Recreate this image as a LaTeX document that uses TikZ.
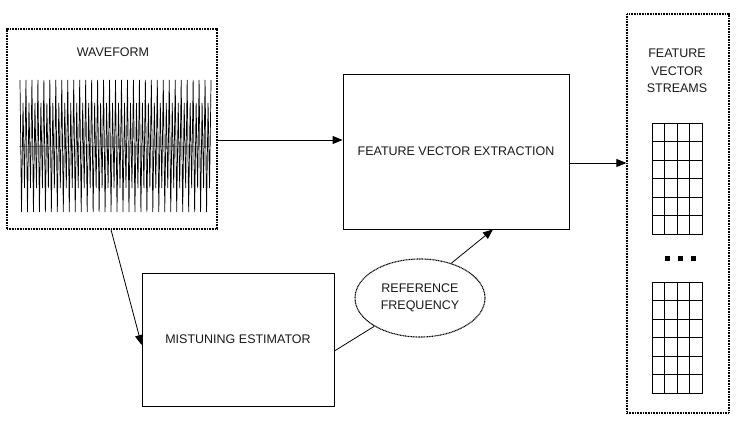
\documentclass[tikz,border=0pt]{standalone}
\usepackage{fontspec}
\setmainfont{Liberation Sans}
\usetikzlibrary{arrows.meta,shapes.geometric}
\begin{document}
\begin{tikzpicture}[x=1pt,y=-1pt,
  every node/.style={font=\fontsize{12.5}{17.5}\selectfont, text=black!90},
  dotbox/.style={draw, dash pattern=on 1pt off 0.6pt, line width=1.3pt, inner sep=0pt, rectangle},
  solidbox/.style={draw, line width=0.8pt, inner sep=0pt, rectangle, align=center},
  ellbox/.style={draw, ellipse, dash pattern=on 1pt off 0.6pt, line width=1.1pt, inner sep=0pt, align=center},
  arr/.style={line width=0.8pt, -{Triangle[length=10pt,width=8pt]}},
  conn/.style={line width=0.8pt},
  gridline/.style={line width=0.8pt},
  wavestroke/.style={line width=0.7pt, black}]
\useasboundingbox (0,0) rectangle (738,422);

% boxes
\node[dotbox, minimum width=210pt, minimum height=200pt] (wave) at (112,129) {};
\node (wavetitle) at (113,52) {WAVEFORM};
\node[solidbox, minimum width=226pt, minimum height=155pt] (fve) at (456,151.5) {FEATURE VECTOR EXTRACTION};
\node[solidbox, minimum width=192pt, minimum height=133pt] (mist) at (238,339.5) {MISTUNING ESTIMATOR};
\node[ellbox, minimum width=130pt, minimum height=78pt] (ell) at (420,298) {REFERENCE\\FREQUENCY};
\node[dotbox, minimum width=102pt, minimum height=399pt] (streams) at (678,213.5) {};
\node[align=center] (streamtitle) at (677,71) {FEATURE\\VECTOR\\STREAMS};

% waveform
\draw[black!40, line width=0.3pt] (19,146) -- (210,146);
\draw[wavestroke] (20,80)
  \foreach \i in {0,...,31} {
    -- ({20+\i*5.97+1.5},212)
    -- ({20+\i*5.97+3},103)
    -- ({20+\i*5.97+4.5},188)
    -- ({20+\i*5.97+5.97},80)
  };

% grids
\foreach \y in {123,282} {
  \draw[gridline] (652,\y) rectangle (702,\y+111);
  \foreach \k in {1,2,3} \draw[gridline] (652+\k*12.5,\y) -- (652+\k*12.5,\y+111);
  \foreach \k in {1,...,5} \draw[gridline] (652,\y+\k*18.5) -- (702,\y+\k*18.5);
}
\foreach \x in {667,680,693} \fill (\x-2.5,255.5) rectangle (\x+2.5,260.5);

% connectors
\draw[arr] (wave.east |- 0,140) -- (fve.west |- 0,140);
\draw[arr] (fve.east |- 0,163) -- (streams.west |- 0,163);
\draw[arr] (wave.south -| 111,0) -- (mist.west |- 0,345);
\draw[conn] (mist.east |- 0,351) -- (ell);
\draw[arr] (ell.48) -- (fve.south -| 493,0);
\end{tikzpicture}
\end{document}
